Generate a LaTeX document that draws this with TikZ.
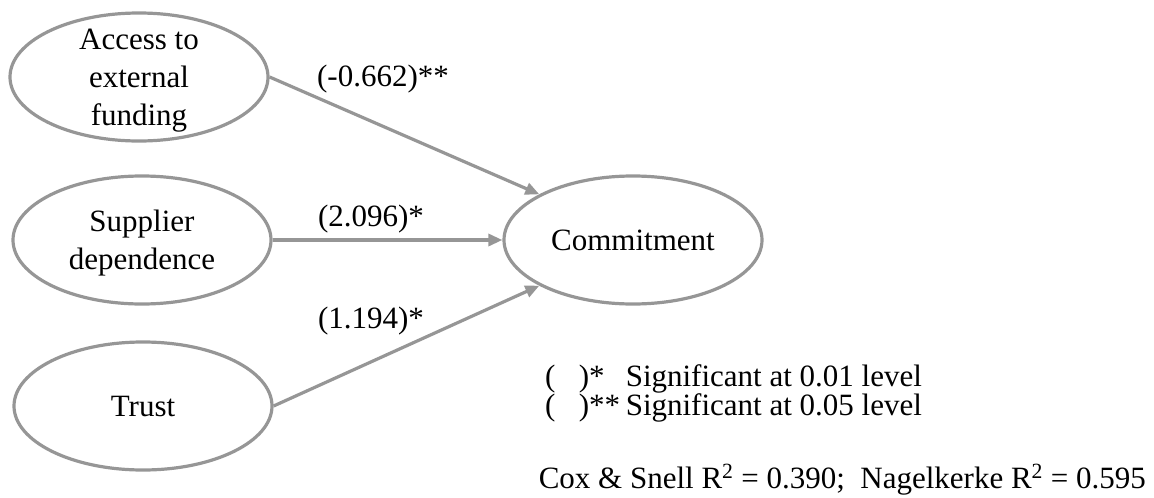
\documentclass[tikz,border=0pt]{standalone}
\usepackage{fontspec}
\setmainfont{Liberation Serif}
\usetikzlibrary{shapes.geometric,arrows.meta,positioning}
\definecolor{linegray}{RGB}{150,150,150}
\newcommand{\sigmark}[1]{\makebox[2.6em][l]{(\hspace{0.75em})#1}}

\begin{document}
\begin{tikzpicture}[x=1pt, y=-1pt,
  every node/.style={font=\fontsize{31}{38}\selectfont},
  latent/.style={ellipse, draw=linegray, line width=3.2pt, minimum width=258pt, minimum height=128pt, inner sep=0pt},
  latentlbl/.style={align=center, inner sep=0pt},
  effect/.style={draw=linegray, line width=3.2pt, -{Triangle[length=14pt,width=12pt]}},
  coef/.style={inner sep=0pt},
  notelbl/.style={anchor=base west, inner sep=0pt}]
  \useasboundingbox (0,0) rectangle (1154,498);

  % predictors
  \node[latent] (access) at (139,77) {};
  \node[latentlbl] (accessT) at ([yshift=-4pt]access.center) {Access to\\external\\funding};
  \node[latent] (supplier) at (142,240) {};
  \node[latentlbl] (supplierT) at ([yshift=-3pt]supplier.center) {Supplier\\dependence};
  \node[latent] (trust) at (143,406) {};
  \node[latentlbl] (trustT) at (trust.center) {Trust};

  % outcome
  \node[latent] (commit) at (633,240) {};
  \node[latentlbl] (commitT) at (commit.center) {Commitment};

  % paths with coefficients
  \draw[effect] (access.east) -- (commit.154);
  \draw[effect] (supplier.east) -- (commit.west);
  \draw[effect] (trust.east) -- (commit.206);
  \node[coef] (c1) at (383,79) {(-0.662)**};
  \node[coef] (c2) at (371,219) {(2.096)*};
  \node[coef] (c3) at (371,321) {(1.194)*};

  % notes
  \node[notelbl] (n1) at (545,386) {\sigmark{*}Significant at 0.01 level};
  \node[notelbl] (n2) at (545,415) {\sigmark{**}Significant at 0.05 level};
  \node[anchor=base east, inner sep=0pt] (fit) at (1146,488)
    {Cox \& Snell R\textsuperscript{2} = 0.390;~ Nagelkerke R\textsuperscript{2} = 0.595};
\end{tikzpicture}
\end{document}
